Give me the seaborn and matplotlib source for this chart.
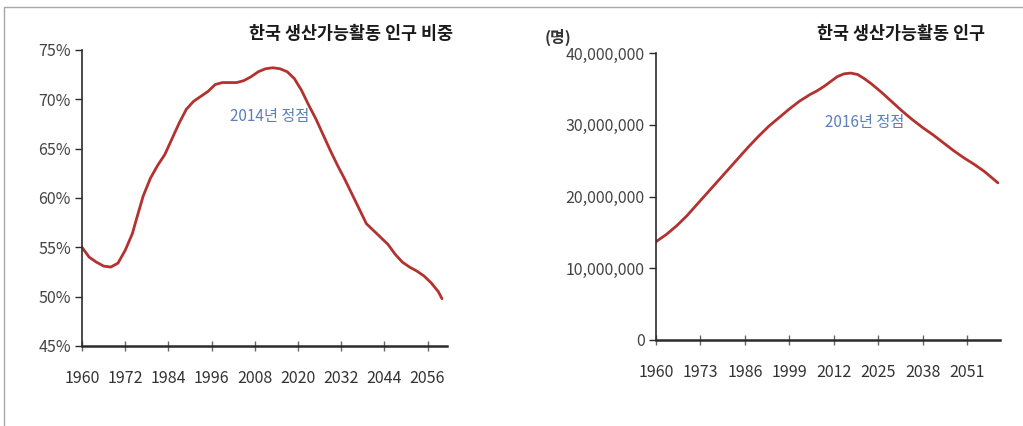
import matplotlib
matplotlib.use("Agg")
import matplotlib.pyplot as plt
import matplotlib.ticker as mticker
from matplotlib.lines import Line2D
import seaborn as sns
import pandas as pd

# Share of working-age population (%)
share_years = [1960, 1962, 1964, 1966, 1968, 1970, 1972, 1974, 1975, 1977,
               1979, 1981, 1983, 1985, 1987, 1989, 1991, 1993, 1995, 1997,
               1999, 2001, 2003, 2005, 2007, 2009, 2011, 2013, 2015, 2017,
               2019, 2021, 2023, 2025, 2027, 2029, 2031, 2033, 2035, 2037,
               2039, 2041, 2043, 2045, 2047, 2049, 2051, 2053, 2055, 2057,
               2059, 2060]
share_values = [55.0, 54.0, 53.5, 53.1, 53.0, 53.4, 54.7, 56.4, 57.7, 60.2,
                62.0, 63.3, 64.4, 66.0, 67.6, 69.0, 69.8, 70.3, 70.8, 71.5,
                71.7, 71.7, 71.7, 71.9, 72.3, 72.8, 73.1, 73.2, 73.1, 72.8,
                72.1, 70.9, 69.4, 68.0, 66.4, 64.8, 63.3, 61.9, 60.4, 58.9,
                57.4, 56.7, 56.0, 55.3, 54.3, 53.5, 53.0, 52.6, 52.1, 51.4,
                50.5, 49.8]

# Working-age population (persons)
pop_years = [1960, 1963, 1966, 1969, 1972, 1975, 1978, 1981, 1984, 1987,
             1990, 1993, 1996, 1999, 2002, 2005, 2007, 2009, 2011, 2013,
             2015, 2017, 2019, 2021, 2023, 2026, 2029, 2032, 2035, 2038,
             2041, 2044, 2047, 2050, 2053, 2056, 2058, 2060]
pop_values = [13_700_000, 14_700_000, 15_900_000, 17_300_000, 18_900_000,
              20_500_000, 22_100_000, 23_700_000, 25_300_000, 26_900_000,
              28_400_000, 29_800_000, 31_000_000, 32_200_000, 33_300_000,
              34_200_000, 34_700_000, 35_300_000, 36_000_000, 36_700_000,
              37_100_000, 37_200_000, 37_000_000, 36_400_000, 35_700_000,
              34_500_000, 33_200_000, 31_900_000, 30_700_000, 29_600_000,
              28_600_000, 27_500_000, 26_400_000, 25_400_000, 24_500_000,
              23_500_000, 22_700_000, 21_900_000]

share_ticks_x = [1960, 1972, 1984, 1996, 2008, 2020, 2032, 2044, 2056]
pop_ticks_x = [1960, 1973, 1986, 1999, 2012, 2025, 2038, 2051]
share_ticks_y = [45, 50, 55, 60, 65, 70, 75]
pop_ticks_y = [0, 10_000_000, 20_000_000, 30_000_000, 40_000_000]

title_share = "한국 생산가능활동 인구 비중"
title_pop = "한국 생산가능활동 인구"
note_share = "2014년 정점"
note_pop = "2016년 정점"
unit_pop = "(명)"

LINE = "#b3322f"
NOTE = "#5a7fbd"
INK = "#2b2b2b"

sns.set_style("white")
plt.rcParams["font.family"] = ["Noto Sans CJK KR", "DejaVu Sans"]

fig = plt.figure(figsize=(10.23, 4.26), dpi=100)
W, H = 1023, 426


def px_axes(x0, x1, ytop, ybot):
    return fig.add_axes([x0 / W, 1 - ybot / H, (x1 - x0) / W, (ybot - ytop) / H])


ax1 = px_axes(82, 447, 50, 346)
ax2 = px_axes(656, 1000, 53, 340)

df1 = pd.DataFrame({"year": share_years, "value": share_values})
df2 = pd.DataFrame({"year": pop_years, "value": pop_values})
sns.lineplot(data=df1, x="year", y="value", ax=ax1, color=LINE, linewidth=2.0)
sns.lineplot(data=df2, x="year", y="value", ax=ax2, color=LINE, linewidth=2.0)

ax1.set_xlim(1960, 2061.4)
ax1.set_ylim(45, 75)
ax2.set_xlim(1960, 2060.6)
ax2.set_ylim(0, 40_000_000)

ax1.set_xticks(share_ticks_x)
ax1.set_yticks(share_ticks_y)
ax1.yaxis.set_major_formatter(mticker.FuncFormatter(lambda v, p: f"{v:.0f}%"))
ax2.set_xticks(pop_ticks_x)
ax2.set_yticks(pop_ticks_y)
ax2.yaxis.set_major_formatter(mticker.FuncFormatter(lambda v, p: f"{v:,.0f}"))

for ax in (ax1, ax2):
    ax.set_xlabel("")
    ax.set_ylabel("")
    ax.set_facecolor("none")
    for s in ("top", "right"):
        ax.spines[s].set_visible(False)
    ax.spines["left"].set_color(INK)
    ax.spines["left"].set_linewidth(1.2)
    ax.spines["bottom"].set_color(INK)
    ax.spines["bottom"].set_linewidth(1.8)
    ax.tick_params(axis="y", direction="out", length=5, width=1, color=INK,
                   labelsize=11.5, labelcolor="#444444", pad=3, left=True)
    ax.tick_params(axis="x", direction="inout", length=7, width=1, color="#666666",
                   labelsize=11.5, labelcolor="#333333", pad=14, bottom=True)

fig.text(270 / W, 1 - 116 / H, note_share, fontsize=11, color=NOTE,
         ha="center", va="center")
fig.text(865 / W, 1 - 123 / H, note_pop, fontsize=11, color=NOTE,
         ha="center", va="center")

fig.text(453 / W, 1 - 34 / H, title_share, fontsize=12.5, fontweight="bold",
         color="#1a1a1a", ha="right", va="center")
fig.text(985 / W, 1 - 34 / H, title_pop, fontsize=12.5, fontweight="bold",
         color="#1a1a1a", ha="right", va="center")
fig.text(545 / W, 1 - 37 / H, unit_pop, fontsize=11.5, fontweight="bold",
         color="#333333", ha="left", va="center")

# thin grey frame along top and left edges
fig.add_artist(Line2D([4 / W, 1.0], [1 - 7 / H, 1 - 7 / H], transform=fig.transFigure,
                      color="#a8a8a8", linewidth=1.0))
fig.add_artist(Line2D([4 / W, 4 / W], [0.0, 1 - 7 / H], transform=fig.transFigure,
                      color="#a8a8a8", linewidth=1.0))

fig.savefig("out.png", dpi=100)
